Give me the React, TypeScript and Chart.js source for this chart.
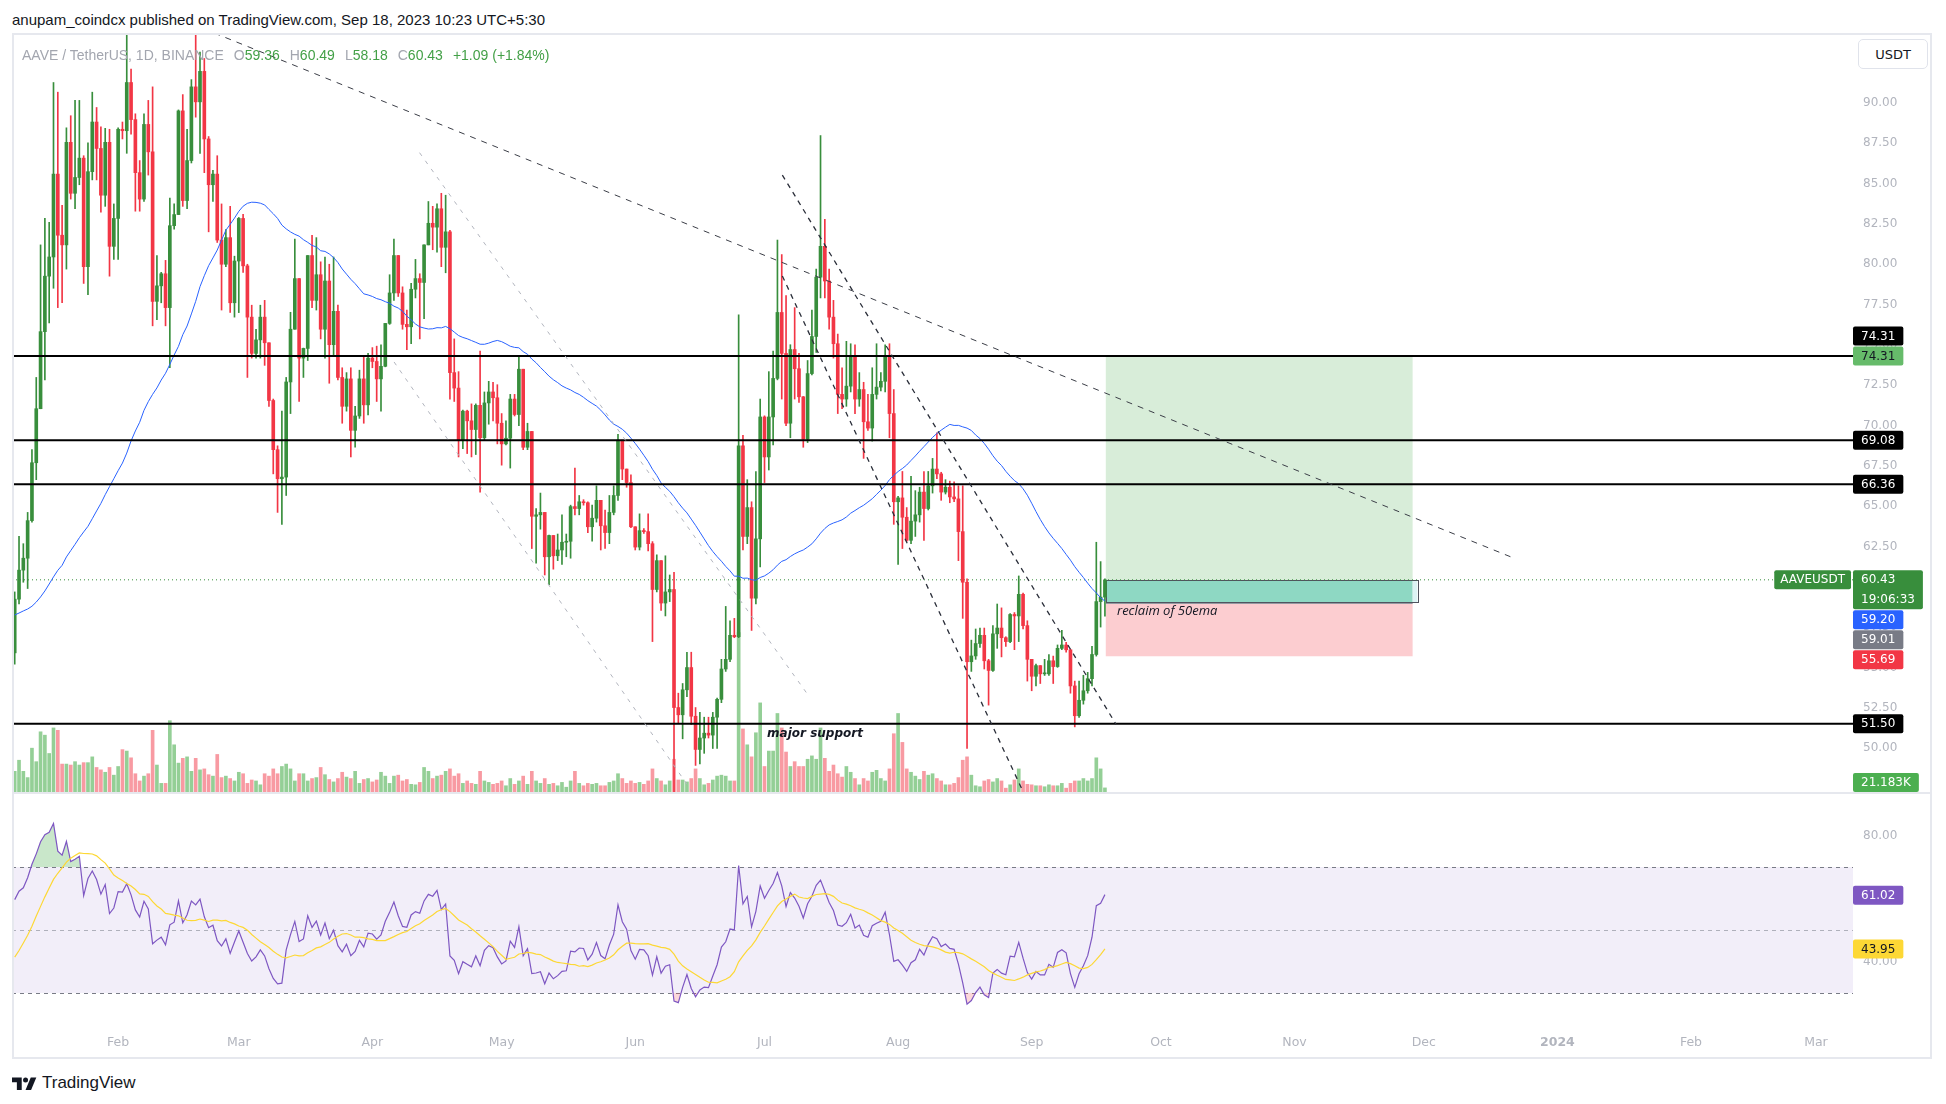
import React, { useEffect, useRef } from "react";
import { Chart, registerables } from "chart.js";
Chart.register(...registerables);

// ---------------- data ----------------
// daily candles, day 0 = 2023-01-08 ... day 253 = 2023-09-18
const firstOpen = 55.9;
const closes = [
  59.23, 61.03, 61.77, 64.10, 67.69, 71.04, 75.82, 79.26, 80.45, 85.59,
  81.80, 81.20, 87.56, 84.40, 85.38, 86.58, 79.85, 85.74, 88.82, 87.18,
  84.28, 87.56, 81.11, 82.84, 88.37, 88.28, 91.27, 88.97, 85.68, 84.04,
  88.67, 86.97, 77.70, 78.66, 79.41, 77.31, 82.39, 83.08, 89.51, 83.95,
  86.43, 91.00, 90.07, 91.96, 87.77, 84.93, 85.59, 81.50, 80.00, 81.65,
  77.61, 80.20, 82.84, 79.90, 76.72, 74.47, 75.31, 76.72, 75.13, 71.55,
  68.50, 66.70, 66.80, 72.70, 75.97, 79.11, 74.18, 74.78, 80.54, 77.76,
  79.35, 75.97, 78.96, 75.01, 77.08, 72.98, 71.19, 72.89, 69.70, 70.59,
  72.89, 71.28, 74.18, 73.97, 72.89, 73.67, 76.33, 78.22, 80.54, 78.22,
  76.27, 76.12, 78.45, 79.11, 78.87, 81.20, 82.54, 82.30, 83.44, 81.05,
  82.01, 73.28, 72.32, 69.09, 70.89, 70.29, 69.75, 71.25, 69.24, 71.40,
  72.08, 71.72, 70.14, 68.86, 69.21, 71.64, 70.68, 73.49, 68.65, 69.63,
  64.37, 64.46, 64.61, 61.86, 63.18, 61.92, 62.28, 62.76, 62.82, 64.97,
  64.85, 65.27, 65.21, 63.72, 64.25, 65.36, 63.78, 63.36, 64.61, 65.66,
  69.09, 67.30, 66.46, 63.72, 62.46, 63.48, 63.42, 62.67, 59.83, 61.62,
  58.99, 59.68, 59.83, 52.51, 52.06, 53.61, 54.99, 51.97, 49.91, 50.62,
  50.92, 50.80, 51.91, 53.02, 54.90, 55.50, 56.99, 56.90, 68.74, 63.12,
  64.91, 59.29, 62.97, 70.53, 68.05, 70.53, 72.92, 77.01, 74.47, 70.14,
  74.71, 73.52, 71.78, 69.15, 73.22, 75.52, 79.20, 81.11, 78.96, 76.72,
  75.07, 71.93, 71.64, 72.44, 74.33, 71.64, 72.23, 70.23, 69.84, 71.93,
  72.38, 72.74, 74.33, 70.74, 65.27, 65.51, 64.31, 62.88, 64.07, 64.46,
  65.87, 64.85, 66.26, 67.30, 67.00, 65.87, 66.17, 65.57, 65.45, 63.42,
  60.28, 55.35, 55.71, 56.48, 56.99, 55.41, 54.81, 57.08, 57.44, 56.84,
  56.60, 58.28, 58.19, 59.53, 57.59, 55.50, 54.45, 55.11, 54.60, 54.60,
  55.41, 55.05, 56.18, 56.39, 56.09, 53.85, 52.00, 52.96, 53.55, 54.30,
  55.80, 59.08, 59.36, 60.43,
];
const highs = [
  59.68, 63.12, 62.67, 64.61, 68.50, 72.98, 81.20, 82.84, 82.60, 91.27,
  90.67, 83.65, 88.46, 89.21, 90.16, 90.16, 86.73, 87.53, 90.67, 89.72,
  88.52, 88.43, 88.37, 83.74, 88.46, 88.82, 94.20, 92.11, 89.33, 86.43,
  89.33, 90.16, 91.00, 80.54, 79.50, 80.24, 84.10, 83.74, 89.57, 90.52,
  88.37, 91.45, 94.20, 93.15, 92.76, 87.92, 85.83, 86.73, 83.74, 82.15,
  83.59, 80.50, 82.90, 83.10, 80.00, 77.46, 75.97, 77.46, 77.76, 75.13,
  71.64, 68.74, 70.89, 72.98, 77.02, 81.56, 78.96, 74.80, 80.54, 81.80,
  81.65, 80.15, 80.45, 80.00, 80.45, 77.46, 73.58, 73.28, 73.58, 71.19,
  73.43, 74.33, 74.47, 74.83, 74.92, 75.01, 76.33, 79.35, 81.56, 80.54,
  78.60, 77.16, 78.81, 80.30, 79.41, 81.20, 83.89, 83.59, 83.74, 84.40,
  84.28, 82.10, 75.37, 73.34, 70.95, 70.95, 71.34, 71.34, 74.62, 72.08,
  72.74, 72.68, 72.53, 70.74, 70.29, 71.93, 71.93, 74.24, 73.49, 70.14,
  69.63, 64.85, 65.81, 64.61, 63.20, 63.18, 63.27, 64.46, 63.27, 65.06,
  67.36, 65.66, 65.40, 65.27, 65.06, 66.26, 65.36, 64.76, 65.66, 66.26,
  69.45, 69.09, 67.30, 66.94, 63.72, 64.52, 63.60, 64.52, 62.80, 61.98,
  61.62, 61.92, 60.73, 60.90, 53.40, 54.00, 55.94, 55.94, 52.51, 52.21,
  51.91, 51.91, 52.21, 53.10, 55.50, 58.78, 57.89, 58.04, 76.86, 69.39,
  66.64, 65.27, 67.15, 71.64, 70.60, 73.34, 74.62, 81.50, 80.60, 78.06,
  75.01, 77.31, 74.47, 71.80, 74.03, 77.16, 79.70, 87.98, 82.78, 79.70,
  77.76, 75.67, 73.58, 75.22, 75.07, 75.01, 73.28, 72.68, 71.93, 73.58,
  75.07, 73.28, 75.01, 75.07, 72.23, 65.60, 67.15, 64.91, 66.85, 65.96,
  66.17, 67.15, 67.15, 67.96, 69.54, 67.10, 66.64, 66.55, 66.50, 66.26,
  66.26, 60.49, 56.69, 57.38, 57.44, 57.44, 55.50, 57.59, 58.93, 58.69,
  56.90, 58.34, 58.40, 60.67, 59.60, 57.89, 55.50, 55.20, 55.10, 55.50,
  55.80, 55.70, 56.39, 57.29, 56.55, 56.10, 54.15, 54.15, 54.51, 54.69,
  56.30, 62.76, 61.56, 60.49,
];
const lows = [
  55.20, 58.93, 60.28, 59.89, 64.01, 66.64, 71.04, 72.83, 76.36, 78.51,
  77.31, 77.61, 79.70, 84.04, 83.44, 84.93, 78.81, 78.12, 85.23, 85.23,
  83.23, 83.59, 79.26, 80.30, 80.30, 87.77, 86.88, 88.07, 83.29, 83.29,
  83.89, 85.53, 76.18, 76.57, 77.61, 76.18, 73.58, 82.18, 83.08, 83.59,
  83.44, 86.28, 89.12, 86.88, 85.68, 82.01, 83.89, 81.35, 77.16, 79.85,
  77.01, 76.72, 77.00, 79.50, 72.98, 74.18, 74.18, 74.18, 73.73, 71.19,
  67.00, 64.61, 63.87, 65.66, 70.74, 75.97, 71.49, 72.98, 74.03, 77.31,
  77.16, 75.37, 74.18, 72.62, 74.33, 72.83, 70.14, 70.89, 68.05, 68.65,
  70.44, 70.14, 70.65, 73.58, 71.49, 70.89, 73.64, 76.27, 77.76, 78.00,
  75.97, 74.71, 75.07, 77.91, 75.37, 76.63, 81.20, 80.90, 80.75, 79.85,
  79.47, 71.64, 71.49, 68.05, 68.56, 68.26, 68.05, 68.20, 65.87, 69.09,
  70.08, 70.29, 68.86, 67.54, 68.80, 67.36, 70.59, 69.99, 68.50, 68.50,
  62.37, 61.47, 63.57, 60.73, 60.13, 61.09, 61.62, 61.38, 61.86, 61.77,
  64.46, 64.46, 65.06, 63.36, 62.82, 64.01, 62.28, 62.37, 62.67, 64.46,
  65.36, 66.64, 66.17, 63.66, 62.28, 62.28, 63.30, 62.22, 56.60, 59.68,
  58.54, 58.19, 59.08, 47.30, 51.52, 50.57, 53.19, 51.46, 48.92, 49.01,
  49.67, 50.62, 49.97, 49.97, 52.81, 54.75, 55.35, 56.84, 56.84, 62.28,
  62.67, 57.29, 58.93, 61.23, 66.46, 67.24, 68.80, 72.83, 71.64, 69.99,
  69.24, 71.64, 71.43, 68.65, 68.94, 73.13, 74.53, 77.91, 77.91, 75.97,
  74.18, 70.74, 71.04, 71.19, 72.08, 70.74, 71.19, 67.96, 69.69, 69.03,
  71.64, 72.14, 72.08, 69.24, 63.87, 61.38, 62.37, 62.82, 62.67, 63.12,
  64.01, 62.88, 64.76, 65.81, 66.70, 65.36, 65.75, 65.21, 65.27, 61.62,
  58.04, 49.97, 54.75, 55.50, 56.24, 54.90, 52.66, 54.75, 56.18, 55.65,
  56.30, 56.54, 56.10, 56.60, 57.38, 54.15, 53.55, 53.85, 54.00, 54.50,
  54.50, 54.00, 55.00, 56.10, 55.94, 53.40, 51.31, 51.90, 52.72, 53.40,
  53.85, 55.70, 57.50, 58.18,
];
// volume in thousands of AAVE
const volumesK = [
  90, 136, 90, 64, 186, 130, 254, 240, 164, 270, 260, 120, 120, 116, 130, 116, 126, 126, 150, 106,
  96, 86, 106, 74, 110, 180, 174, 146, 80, 50, 70, 80, 260, 116, 40, 40, 300, 200, 124, 144,
  150, 90, 144, 96, 100, 76, 70, 160, 64, 70,
  60, 50, 86, 80, 40, 54, 50, 34, 80, 70, 100, 80, 110, 120, 100, 50, 80, 80, 50, 60,
  64, 106, 76, 56, 46, 60, 86, 66, 60, 90, 40, 56, 60, 46, 54, 86, 70, 40, 70, 74,
  50, 56, 36, 34, 44, 106, 90, 60, 70, 74,
  90, 100, 70, 80, 40, 50, 40, 36, 90, 50, 44, 36, 40, 50, 30, 60, 36, 50, 70, 36,
  90, 50, 40, 60, 36, 40, 30, 44, 24, 50, 90, 40, 30, 40, 36, 40, 30, 30, 44, 50,
  80, 60, 40, 50, 40, 44, 36, 50, 100, 60, 50,
  34, 50, 140, 54, 54, 46, 60, 100, 60, 34, 40, 54, 70, 74, 70, 50, 50,
  666, 266, 200, 150, 250, 374, 110, 174, 174, 330, 270, 170, 110, 130, 110, 110, 140, 154, 140, 270,
  144, 90, 116, 80, 66, 110, 86, 60, 34, 60, 50, 86, 94,
  60, 50, 100, 246, 330, 210, 100, 86, 70, 56, 90, 74, 80, 60, 50, 34, 34, 40, 64, 136,
  150, 74, 30, 26, 50, 56, 46, 60, 50, 20, 34, 54, 100, 50, 36, 34, 30, 30, 26, 34,
  30, 30, 40, 20, 40, 50, 50, 60, 50, 60, 146, 100, 21.183,
];
// 50-day moving average for days 0..48 (its window reaches before the first candle)
const ma50Head = [
  58.25, 58.37, 58.50, 58.62, 58.79, 59.05, 59.37, 59.74, 60.17, 60.61,
  61.02, 61.33, 61.85, 62.24, 62.63, 63.04, 63.40, 63.75, 64.22, 64.70,
  65.17, 65.71, 66.21, 66.70, 67.20, 67.67, 68.29, 69.04, 69.66, 70.20,
  70.94, 71.48, 71.93, 72.33, 72.82, 73.24, 73.79, 74.37, 74.91, 75.63,
  76.17, 76.92, 77.70, 78.61, 79.29, 79.91, 80.39, 80.88, 81.50,
];
const maLength = 50;

// time axis (day index of each month start) and labels
const monthTickDays = [24, 52, 83, 113, 144, 174, 205, 236, 266, 297, 327, 358, 389, 418];
const monthTickLabels = ["Feb", "Mar", "Apr", "May", "Jun", "Jul", "Aug", "Sep", "Oct", "Nov", "Dec", "2024", "Feb", "Mar"];
const priceTicks = [50, 52.5, 55, 57.5, 60, 62.5, 65, 67.5, 70, 72.5, 75, 77.5, 80, 82.5, 85, 87.5, 90];
const rsiTicks = [40, 60, 80];

// horizontal levels drawn by the author
const levelPrices = [74.31, 69.08, 66.36, 51.5];
const lastPrice = 60.43;
const countdown = "19:06:33";
const maReadout = 59.2;
const rsiReadout = 61.02;
const rsiMaReadout = 43.95;

// RSI warm-up (values before the first visible candle)
const rsiSeedGain = 1.0;
const rsiSeedLoss = 0.85;
const rsiBefore = [33, 30, 32, 31, 29, 35, 38, 42, 45, 48, 50, 52, 55];

// trend-line anchors (day index, price)
const trendDark = [[46.3, 94.34], [347.4, 61.83]];
const trendSteepA = [[178.14, 85.53], [255.58, 51.47]];
const trendSteepB = [[178.14, 79.27], [234.3, 47.13]];
const trendGrayA = [[93.94, 86.92], [183.94, 53.35]];
const trendGrayB = [[88.03, 73.94], [157.41, 47.21]];

// long-position tool and rectangle
const positionDays = [253.2, 324.4];
const positionTarget = 74.31;
const positionEntry = 59.01;
const positionStop = 55.69;
const boxDays = [253.2, 325.5];
const boxPrices = [60.4, 59.03];
const noteSupport = { day: 174.6, price: 50.87, text: "major support" };
const noteReclaim = { day: 255.8, price: 58.45, text: "reclaim of 50ema" };

// ---------------- derived series ----------------
const days = closes.map((_, i) => i);
const opens = closes.map((c, i) => (i === 0 ? firstOpen : closes[i - 1]));
const ma50 = days.map((i) => {
  if (i < ma50Head.length) return ma50Head[i];
  const w = closes.slice(i - maLength + 1, i + 1);
  return w.reduce((s, v) => s + v, 0) / w.length;
});
const rsi: number[] = [];
{
  let ag = rsiSeedGain, al = rsiSeedLoss, prev = firstOpen;
  closes.forEach((c) => {
    const ch = c - prev;
    prev = c;
    ag = (ag * 13 + Math.max(ch, 0)) / 14;
    al = (al * 13 + Math.max(-ch, 0)) / 14;
    rsi.push(100 - 100 / (1 + ag / al));
  });
}
const rsiAll = [...rsiBefore, ...rsi];
const rsiMa = rsi.map((_, i) => {
  const w = rsiAll.slice(i, i + 14);
  return w.reduce((s, v) => s + v, 0) / w.length;
});

// ---------------- layout constants ----------------
const X_MIN = -0.63;
const X_MAX = 426.6;
const P_MIN = 47.21;
const P_MAX = 94.34;
const VOL_MAX = 3154;
const R_MIN = 19.84;
const R_MAX = 93.17;
const AXIS_W = 79;

const GREEN = "#388e3c";
const RED = "#f23645";
const VOL_UP = "rgba(76,175,80,0.6)";
const VOL_DN = "rgba(242,54,69,0.5)";
const TICK_COLOR = "#b2b5be";
const FONT = '"DejaVu Sans", "Liberation Sans", sans-serif';

function roundRect(ctx: any, x: number, y: number, w: number, h: number, r: number) {
  ctx.beginPath();
  ctx.moveTo(x + r, y);
  ctx.lineTo(x + w - r, y);
  ctx.quadraticCurveTo(x + w, y, x + w, y + r);
  ctx.lineTo(x + w, y + h - r);
  ctx.quadraticCurveTo(x + w, y + h, x + w - r, y + h);
  ctx.lineTo(x + r, y + h);
  ctx.quadraticCurveTo(x, y + h, x, y + h - r);
  ctx.lineTo(x, y + r);
  ctx.quadraticCurveTo(x, y, x + r, y);
  ctx.closePath();
}

const LINE_H = 19;
function drawTags(chart: any, tags: any[]) {
  const ctx = chart.ctx;
  const area = chart.chartArea;
  ctx.save();
  ctx.font = "12px " + FONT;
  const items = tags.map((t, rank) => {
    const yv = chart.scales[t.axis].getPixelForValue(t.value);
    const h = t.lines.length === 1 ? LINE_H : LINE_H * 2 + 1;
    const w = Math.max(...t.lines.map((s: string) => ctx.measureText(s).width)) + 16;
    return { ...t, rank, h, w, top: yv - LINE_H / 2 };
  });
  items.sort((a, b) => a.top - b.top || a.rank - b.rank);
  for (let i = 1; i < items.length; i++) {
    const it = items[i];
    if (it.fixed) continue;
    const minTop = items[i - 1].top + items[i - 1].h + 1;
    if (it.top < minTop) it.top = minTop;
  }
  for (let i = items.length - 2; i >= 0; i--) {
    const it = items[i];
    if (it.fixed) continue;
    const maxTop = items[i + 1].top - 1 - it.h;
    if (it.top > maxTop) it.top = maxTop;
  }
  items.forEach((it) => {
    const top = Math.min(Math.max(it.top, area.top + 1), area.bottom - it.h - 1);
    const x = area.right;
    ctx.fillStyle = it.bg;
    roundRect(ctx, x, top, it.w, it.h, 2);
    ctx.fill();
    ctx.fillStyle = it.fg;
    ctx.textAlign = "left";
    ctx.textBaseline = "middle";
    it.lines.forEach((s: string, k: number) => ctx.fillText(s, x + 8, top + LINE_H / 2 + k * (LINE_H + 1) + 0.5));
  });
  ctx.restore();
}

const mainOverlay = {
  id: "mainOverlay",
  beforeDatasetsDraw(chart: any) {
    const { ctx, chartArea: a } = chart;
    const xs = chart.scales.x, ys = chart.scales.y;
    ctx.save();
    ctx.beginPath();
    ctx.rect(a.left, a.top, a.right - a.left, a.bottom - a.top);
    ctx.clip();
    const x0 = xs.getPixelForValue(positionDays[0]);
    const x1 = xs.getPixelForValue(positionDays[1]);
    const yT = ys.getPixelForValue(positionTarget);
    const yE = ys.getPixelForValue(positionEntry);
    const yS = ys.getPixelForValue(positionStop);
    ctx.fillStyle = "rgba(76,175,80,0.22)";
    ctx.fillRect(x0, yT, x1 - x0, yE - yT);
    ctx.fillStyle = "rgba(242,54,69,0.25)";
    ctx.fillRect(x0, yE, x1 - x0, yS - yE);
    const bx0 = xs.getPixelForValue(boxDays[0]);
    const bx1 = xs.getPixelForValue(boxDays[1]);
    const by0 = ys.getPixelForValue(boxPrices[0]);
    const by1 = ys.getPixelForValue(boxPrices[1]);
    ctx.fillStyle = "#8ed8c3";
    ctx.fillRect(bx0, by0, Math.min(bx1, x1) - bx0, by1 - by0);
    if (bx1 > x1) {
      ctx.fillStyle = "#dcf3f4";
      ctx.fillRect(x1, by0, bx1 - x1, by1 - by0);
    }
    ctx.strokeStyle = "#50535e";
    ctx.lineWidth = 1;
    ctx.strokeRect(Math.round(bx0) + 0.5, Math.round(by0) + 0.5, Math.round(bx1 - bx0), Math.round(by1 - by0));
    ctx.strokeStyle = "#9598a1";
    ctx.beginPath();
    ctx.moveTo(x0, Math.round(yE) + 0.5);
    ctx.lineTo(x1, Math.round(yE) + 0.5);
    ctx.stroke();
    ctx.restore();
  },
  afterDatasetsDraw(chart: any) {
    const { ctx } = chart;
    const xs = chart.scales.x, ys = chart.scales.y;
    ctx.save();
    ctx.fillStyle = "#131722";
    ctx.textAlign = "left";
    ctx.textBaseline = "middle";
    ctx.font = "italic bold 12px " + FONT;
    ctx.fillText(noteSupport.text, xs.getPixelForValue(noteSupport.day), ys.getPixelForValue(noteSupport.price));
    ctx.font = 'italic 13px "Open Sans", sans-serif';
    ctx.fillText(noteReclaim.text, xs.getPixelForValue(noteReclaim.day), ys.getPixelForValue(noteReclaim.price));
    ctx.restore();
  },
  afterDraw(chart: any) {
    const { ctx, chartArea: a } = chart;
    const ys = chart.scales.y;
    ctx.save();
    ctx.font = "12px " + FONT;
    const w = ctx.measureText("AAVEUSDT").width + 12;
    const yc = ys.getPixelForValue(lastPrice);
    ctx.fillStyle = GREEN;
    roundRect(ctx, a.right - 2 - w, yc - LINE_H / 2, w, LINE_H, 2);
    ctx.fill();
    ctx.fillStyle = "#ffffff";
    ctx.textBaseline = "middle";
    ctx.fillText("AAVEUSDT", a.right - 2 - w + 6, yc + 0.5);
    ctx.restore();
    drawTags(chart, [
      { axis: "y", value: levelPrices[0], lines: [levelPrices[0].toFixed(2)], bg: "#000000", fg: "#ffffff" },
      { axis: "y", value: positionTarget, lines: [positionTarget.toFixed(2)], bg: "#66bb6a", fg: "#131722", fixed: true },
      { axis: "y", value: levelPrices[1], lines: [levelPrices[1].toFixed(2)], bg: "#000000", fg: "#ffffff" },
      { axis: "y", value: levelPrices[2], lines: [levelPrices[2].toFixed(2)], bg: "#000000", fg: "#ffffff" },
      { axis: "y", value: lastPrice, lines: [lastPrice.toFixed(2), countdown], bg: GREEN, fg: "#ffffff", fixed: true },
      { axis: "y", value: maReadout, lines: [maReadout.toFixed(2)], bg: "#2962ff", fg: "#ffffff" },
      { axis: "y", value: positionEntry, lines: [positionEntry.toFixed(2)], bg: "#787b86", fg: "#ffffff" },
      { axis: "y", value: positionStop, lines: [positionStop.toFixed(2)], bg: RED, fg: "#ffffff" },
      { axis: "y", value: levelPrices[3], lines: [levelPrices[3].toFixed(2)], bg: "#000000", fg: "#ffffff" },
      { axis: "yv", value: volumesK[volumesK.length - 1], lines: [volumesK[volumesK.length - 1].toFixed(3) + "K"], bg: "#4caf50", fg: "#ffffff" },
    ]);
  },
};

const rsiOverlay = {
  id: "rsiOverlay",
  beforeDatasetsDraw(chart: any) {
    const { ctx, chartArea: a } = chart;
    const ys = chart.scales.y;
    const y70 = ys.getPixelForValue(70), y50 = ys.getPixelForValue(50), y30 = ys.getPixelForValue(30);
    ctx.save();
    ctx.fillStyle = "rgba(126,87,194,0.1)";
    ctx.fillRect(a.left, y70, a.right - a.left, y30 - y70);
    ctx.lineWidth = 1;
    ctx.setLineDash([4, 4]);
    [[y70, "#787b86"], [y50, "rgba(120,123,134,0.55)"], [y30, "#787b86"]].forEach(([y, c]: any) => {
      ctx.strokeStyle = c;
      ctx.beginPath();
      ctx.moveTo(a.left, Math.round(y) + 0.5);
      ctx.lineTo(a.right, Math.round(y) + 0.5);
      ctx.stroke();
    });
    ctx.restore();
  },
  afterDraw(chart: any) {
    const { ctx, chartArea: a } = chart;
    const ys = chart.scales.y;
    ctx.save();
    ctx.font = "12px " + FONT;
    [
      [rsiReadout, "#7e57c2", "#ffffff"],
      [rsiMaReadout, "#fdd835", "#131722"],
    ].forEach(([v, bg, fg]: any) => {
      const t = v.toFixed(2);
      const w = ctx.measureText(t).width + 16;
      const y = ys.getPixelForValue(v);
      ctx.fillStyle = bg;
      roundRect(ctx, a.right, y - LINE_H / 2, w, LINE_H, 2);
      ctx.fill();
      ctx.fillStyle = fg;
      ctx.textBaseline = "middle";
      ctx.textAlign = "left";
      ctx.fillText(t, a.right + 8, y + 0.5);
    });
    ctx.restore();
  },
};

function lineSet(pts: number[][], color: string, width: number, dash: number[], order: number) {
  return {
    type: "line",
    data: pts.map(([x, y]) => ({ x, y })),
    borderColor: color,
    borderWidth: width,
    borderDash: dash,
    pointRadius: 0,
    order,
  };
}

export default function App() {
  const mainRef = useRef<HTMLCanvasElement>(null);
  const rsiRef = useRef<HTMLCanvasElement>(null);

  useEffect(() => {
    const candleColor = days.map((i) => (closes[i] >= opens[i] ? GREEN : RED));
    const volColor = days.map((i) => (closes[i] >= opens[i] ? VOL_UP : VOL_DN));
    const main = new Chart(mainRef.current as any, {
      type: "bar",
      data: {
        datasets: [
          { type: "bar", yAxisID: "yv", data: days.map((i) => ({ x: i, y: volumesK[i] })), backgroundColor: volColor, barThickness: 3, grouped: false, order: 30 } as any,
          lineSet([[X_MIN, lastPrice], [X_MAX, lastPrice]], GREEN, 1, [1, 3], 25),
          {
            type: "bar",
            data: days.map((i) => ({ x: i, y: [Math.min(lows[i], opens[i], closes[i]), Math.max(highs[i], opens[i], closes[i])] })),
            backgroundColor: candleColor, barThickness: 1, grouped: false, order: 20,
          } as any,
          {
            type: "bar",
            data: days.map((i) => ({ x: i, y: [opens[i], closes[i]] })),
            backgroundColor: candleColor, barThickness: 3, minBarLength: 1, grouped: false, order: 19,
          } as any,
          { type: "line", data: days.map((i) => ({ x: i, y: ma50[i] })), borderColor: "#2962ff", borderWidth: 1, pointRadius: 0, order: 10 } as any,
          ...levelPrices.map((p) => lineSet([[X_MIN, p], [X_MAX, p]], "#000000", 2, [], 5)),
          lineSet(trendDark, "#3b3e47", 1, [6, 6], 2),
          lineSet(trendSteepA, "#2a2e39", 1.3, [5, 5], 2),
          lineSet(trendSteepB, "#2a2e39", 1.3, [5, 5], 2),
          lineSet(trendGrayA, "#b2b5be", 1, [4, 6], 2),
          lineSet(trendGrayB, "#b2b5be", 1, [4, 6], 2),
        ] as any,
      },
      options: {
        animation: false,
        responsive: true,
        maintainAspectRatio: false,
        events: [],
        layout: { padding: 0 },
        plugins: { legend: { display: false }, tooltip: { enabled: false } },
        scales: {
          x: { type: "linear", min: X_MIN, max: X_MAX, display: false, offset: false, grid: { display: false } },
          y: {
            type: "linear", position: "right", min: P_MIN, max: P_MAX, beginAtZero: false,
            grid: { display: false, drawTicks: false }, border: { display: false },
            afterBuildTicks: (s: any) => { s.ticks = priceTicks.map((v) => ({ value: v })); },
            afterFit: (s: any) => { s.width = AXIS_W; s.paddingTop = 0; s.paddingBottom = 0; },
            ticks: { padding: 10, color: TICK_COLOR, font: { family: FONT, size: 12 }, autoSkip: false, callback: (v: any) => Number(v).toFixed(2) },
          },
          yv: { type: "linear", display: false, min: 0, max: VOL_MAX, beginAtZero: true },
        },
      } as any,
      plugins: [mainOverlay],
    });

    const rsiChart = new Chart(rsiRef.current as any, {
      type: "line",
      data: {
        datasets: [
          { data: days.map((i) => ({ x: i, y: rsiMa[i] })), borderColor: "#fdd835", borderWidth: 1.2, pointRadius: 0, order: 0 },
          {
            data: days.map((i) => ({ x: i, y: rsi[i] })), borderColor: "#7e57c2", borderWidth: 1.2, pointRadius: 0, order: 1,
            fill: { target: { value: 70 }, above: "rgba(76,175,80,0.3)", below: "rgba(0,0,0,0)" },
          },
          {
            data: days.map((i) => ({ x: i, y: rsi[i] })), borderColor: "rgba(0,0,0,0)", borderWidth: 0, pointRadius: 0, order: 2,
            fill: { target: { value: 30 }, above: "rgba(0,0,0,0)", below: "rgba(242,54,69,0.2)" },
          },
        ] as any,
      },
      options: {
        animation: false,
        responsive: true,
        maintainAspectRatio: false,
        events: [],
        layout: { padding: 0 },
        plugins: { legend: { display: false }, tooltip: { enabled: false } },
        scales: {
          x: {
            type: "linear", position: "bottom", min: X_MIN, max: X_MAX, offset: false,
            grid: { display: false, drawTicks: false }, border: { display: false },
            afterBuildTicks: (s: any) => { s.ticks = monthTickDays.map((v) => ({ value: v })); },
            afterFit: (s: any) => { s.height = 33; s.paddingLeft = 0; s.paddingRight = 0; },
            ticks: {
              autoSkip: false, maxRotation: 0, minRotation: 0, padding: 10, color: TICK_COLOR,
              font: (c: any) => ({ family: FONT, size: 12.5, weight: monthTickLabels[c.index] === "2024" ? "bold" : "normal" }),
              callback: (_v: any, idx: number) => monthTickLabels[idx],
            },
          },
          y: {
            type: "linear", position: "right", min: R_MIN, max: R_MAX,
            grid: { display: false, drawTicks: false }, border: { display: false },
            afterBuildTicks: (s: any) => { s.ticks = rsiTicks.map((v) => ({ value: v })); },
            afterFit: (s: any) => { s.width = AXIS_W; s.paddingTop = 0; s.paddingBottom = 0; },
            ticks: { padding: 10, color: TICK_COLOR, font: { family: FONT, size: 12 }, autoSkip: false, callback: (v: any) => Number(v).toFixed(2) },
          },
        },
      } as any,
      plugins: [rsiOverlay],
    });

    return () => {
      main.destroy();
      rsiChart.destroy();
    };
  }, []);

  const G = "#43a047";
  const legendGap = { marginLeft: 10 };
  return (
    <div style={{ position: "absolute", left: 0, top: 0, width: 1946, height: 1104, background: "#ffffff", overflow: "hidden" }}>
      <div style={{ position: "absolute", left: 12, top: 10, fontSize: 15, lineHeight: "20px", color: "#131722", fontFamily: '"Liberation Sans", Arial, sans-serif', whiteSpace: "nowrap" }}>
        anupam_coindcx published on TradingView.com, Sep 18, 2023 10:23 UTC+5:30
      </div>
      <div style={{ position: "absolute", left: 12, top: 33, width: 1920, height: 760 }}>
        <canvas ref={mainRef} />
      </div>
      <div style={{ position: "absolute", left: 12, top: 794, width: 1920, height: 264 }}>
        <canvas ref={rsiRef} />
      </div>
      <div style={{ position: "absolute", left: 12, top: 792, width: 1920, height: 2, background: "#e6e8ee" }} />
      <div style={{ position: "absolute", left: 12, top: 33, width: 1920, height: 1026, border: "2px solid #e6e8ee", boxSizing: "border-box", pointerEvents: "none" }} />
      <div style={{ position: "absolute", left: 22, top: 46, fontSize: 14, lineHeight: "18px", color: "#a3a6af", fontFamily: '"Liberation Sans", Arial, sans-serif', whiteSpace: "nowrap" }}>
        AAVE / TetherUS, 1D, BINANCE
        <span style={legendGap}>O<span style={{ color: G }}>59.36</span></span>
        <span style={legendGap}>H<span style={{ color: G }}>60.49</span></span>
        <span style={legendGap}>L<span style={{ color: G }}>58.18</span></span>
        <span style={legendGap}>C<span style={{ color: G }}>60.43</span></span>
        <span style={{ ...legendGap, color: G }}>+1.09 (+1.84%)</span>
      </div>
      <div style={{ position: "absolute", left: 1858, top: 39, width: 70, height: 30, border: "1px solid #e0e3eb", borderRadius: 5, boxSizing: "border-box", display: "flex", alignItems: "center", justifyContent: "center", fontSize: 13, color: "#131722", fontFamily: FONT, background: "#ffffff" }}>
        USDT
      </div>
      <div style={{ position: "absolute", left: 12, top: 1072, height: 22, display: "flex", alignItems: "center" }}>
        <svg width="25" height="14" viewBox="0 0 36 20">
          <path d="M14 20H7V9H0V2h14v18z" fill="#131722" />
          <circle cx="19.5" cy="5.5" r="3.6" fill="#131722" />
          <path d="M27.5 20h-8l7.5-18h8z" fill="#131722" />
        </svg>
        <span style={{ marginLeft: 5, fontSize: 17, color: "#131722", fontFamily: '"Liberation Sans", Arial, sans-serif' }}>TradingView</span>
      </div>
    </div>
  );
}
